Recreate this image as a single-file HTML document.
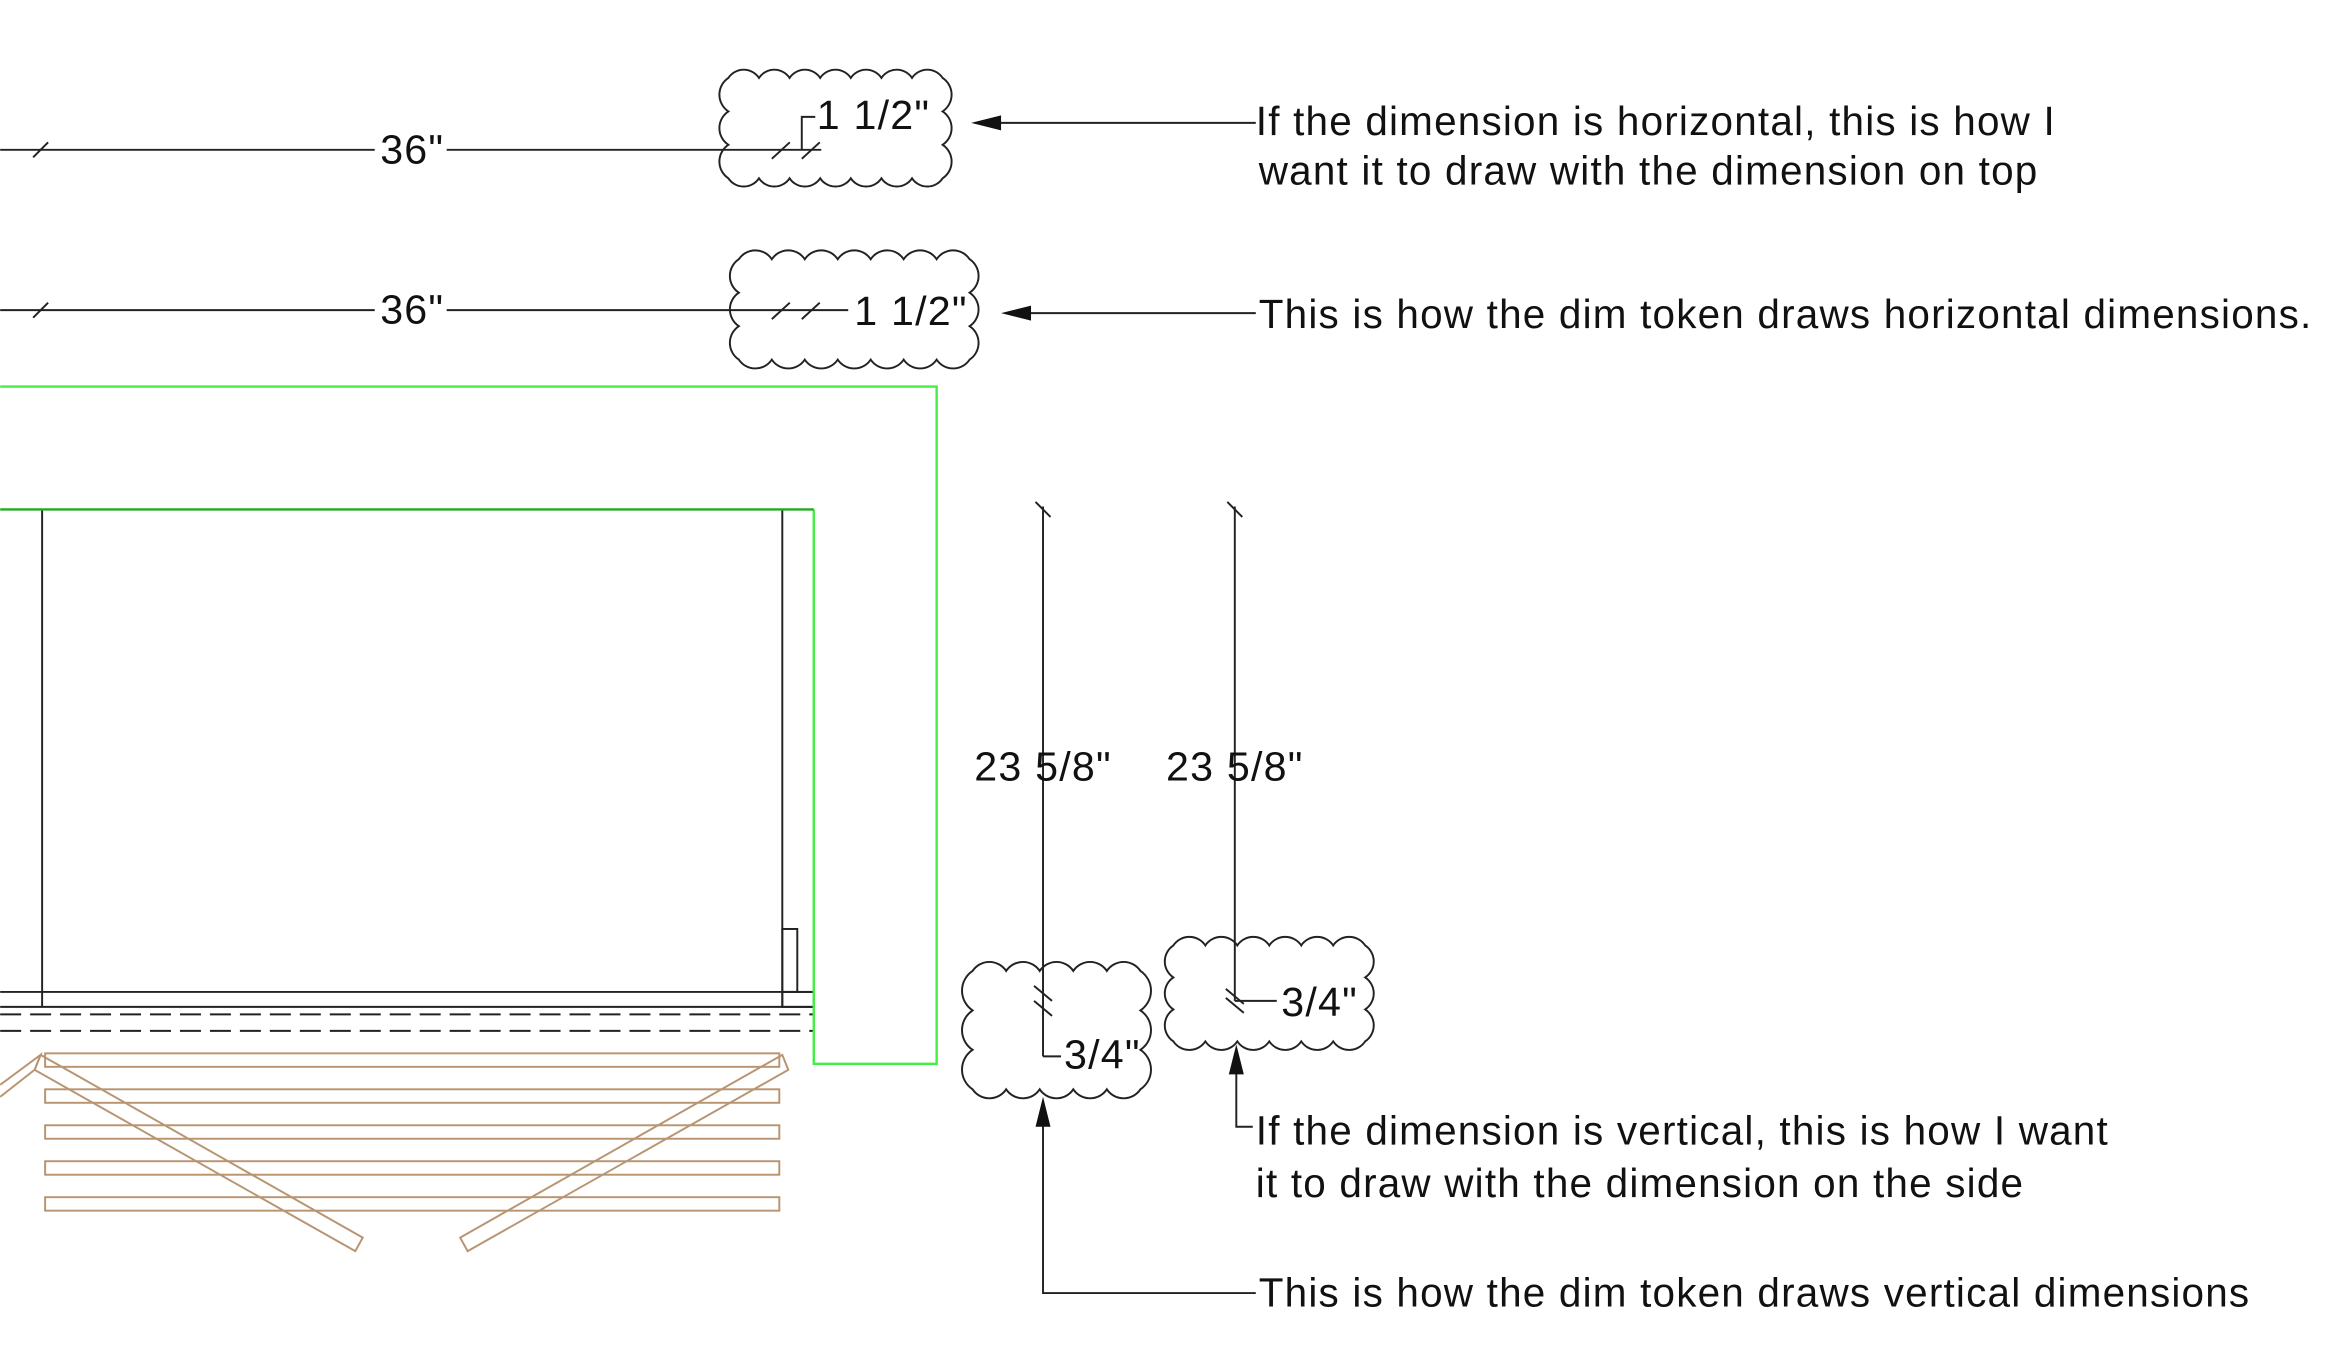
<!DOCTYPE html>
<html><head><meta charset="utf-8"><style>
html,body{margin:0;padding:0;background:#fff;}
svg{display:block;}
text{font-family:"Liberation Sans",sans-serif;fill:#111;}
</style></head><body>
<svg id="s" width="2349" height="1368" viewBox="0 0 1567.5 913" xmlns="http://www.w3.org/2000/svg">
<g fill="none" stroke="#222" stroke-width="1.3">
<line x1="0" y1="100" x2="250" y2="100"/><line x1="298" y1="100" x2="548" y2="100"/>
<line x1="22" y1="105" x2="32" y2="95"/>
<line x1="515" y1="106" x2="527" y2="95"/><line x1="535" y1="106" x2="547" y2="95"/>
<polyline points="535,100 535,78 544,78"/>
<line x1="0" y1="207" x2="250" y2="207"/><line x1="298" y1="207" x2="566" y2="207"/>
<line x1="22" y1="212" x2="32" y2="202"/>
<line x1="515" y1="213" x2="527" y2="202"/><line x1="535" y1="213" x2="547" y2="202"/>
<line x1="665" y1="82" x2="838" y2="82"/>
<line x1="686" y1="209" x2="838" y2="209"/>
<line x1="696" y1="338" x2="696" y2="705"/>
<polyline points="696,705 708,705"/>
<line x1="691" y1="335" x2="701" y2="345"/>
<line x1="690" y1="658" x2="702" y2="668"/><line x1="690" y1="668" x2="702" y2="678"/>
<line x1="824" y1="338" x2="824" y2="668"/>
<line x1="819" y1="335" x2="829" y2="345"/>
<line x1="818" y1="660" x2="830" y2="670"/><line x1="818" y1="666" x2="830" y2="676"/>
<line x1="824" y1="668" x2="852" y2="668"/>
<polyline points="825,715 825,752 836,752"/>
<polyline points="696,750 696,863 838,863"/>
<line x1="28" y1="340" x2="28" y2="672"/>
<line x1="522" y1="340" x2="522" y2="672"/>
<line x1="0" y1="662" x2="543" y2="662"/>
<line x1="0" y1="672" x2="543" y2="672"/>
<rect x="522" y="620" width="10" height="42"/>
<rect x="522" y="662" width="21" height="10"/>
<line x1="0" y1="677" x2="543" y2="677" stroke-dasharray="14,6"/>
<line x1="0" y1="688" x2="543" y2="688" stroke-dasharray="14,6"/>
</g>
<g fill="#111">
<polygon points="648,82 668,77 668,87"/>
<polygon points="668,209 688,204 688,214"/>
<polygon points="825,697 820,717 830,717"/>
<polygon points="696,732 691,752 701,752"/>
</g>
<polyline points="0,258 625,258 625,710 543,710 543,340" fill="none" stroke="#44ee44" stroke-width="1.6"/>
<line x1="0" y1="340" x2="543" y2="340" stroke="#22aa22" stroke-width="1.6"/>
<g fill="none" stroke="#b89470" stroke-width="1.3">
<rect x="30" y="703" width="490" height="9"/>
<rect x="30" y="727" width="490" height="9"/>
<rect x="30" y="751" width="490" height="9"/>
<rect x="30" y="775" width="490" height="9"/>
<rect x="30" y="799" width="490" height="9"/>
<polygon points="27,704 242,826 237,835 23,714"/>
<polygon points="522,704 307,826 312,835 526,714"/>
<polyline points="0,724 27,704 23,714 0,732"/>
</g>
<g id="clouds" fill="none" stroke="#222" stroke-width="1.3"></g>
<g font-size="27.5" letter-spacing="0.8">
<text x="275" y="109" text-anchor="middle">36"</text>
<text x="275" y="216" text-anchor="middle">36"</text>
<text x="545" y="86">1 1/2"</text>
<text x="570" y="217">1 1/2"</text>
<text x="696" y="521" text-anchor="middle">23 5/8"</text>
<text x="824" y="521" text-anchor="middle">23 5/8"</text>
<text x="710" y="713">3/4"</text>
<text x="855" y="678">3/4"</text>
</g>
<g font-size="27" letter-spacing="0.8">
<text x="838" y="90">If the dimension is horizontal, this is how I</text>
<text x="840" y="123">want it to draw with the dimension on top</text>
<text x="840" y="219">This is how the dim token draws horizontal dimensions.</text>
<text x="838" y="764">If the dimension is vertical, this is how I want</text>
<text x="838" y="799">it to draw with the dimension on the side</text>
<text x="840" y="872">This is how the dim token draws vertical dimensions</text>
</g>
</svg>
<script>
function cloud(x0,y0,x1,y1){
  var w=x1-x0,h=y1-y0,nx=Math.max(2,Math.round(w/21)),ny=Math.max(2,Math.round(h/25));
  var dx=w/nx,dy=h/ny,r,d="M"+x0+","+y0;
  r=dx*0.6;for(var i=1;i<=nx;i++)d+=" A"+r+","+r+" 0 0 1 "+(x0+dx*i)+","+y0;
  r=dy*0.6;for(i=1;i<=ny;i++)d+=" A"+r+","+r+" 0 0 1 "+x1+","+(y0+dy*i);
  r=dx*0.6;for(i=1;i<=nx;i++)d+=" A"+r+","+r+" 0 0 1 "+(x1-dx*i)+","+y1;
  r=dy*0.6;for(i=1;i<=ny;i++)d+=" A"+r+","+r+" 0 0 1 "+x0+","+(y1-dy*i);
  return '<path d="'+d+'Z"/>';
}
document.getElementById('clouds').innerHTML=
  cloud(486,52,629,119)+cloud(493,173,647,240)+cloud(649,648,761,727)+cloud(783,631,911,695);
</script>
</body></html>
